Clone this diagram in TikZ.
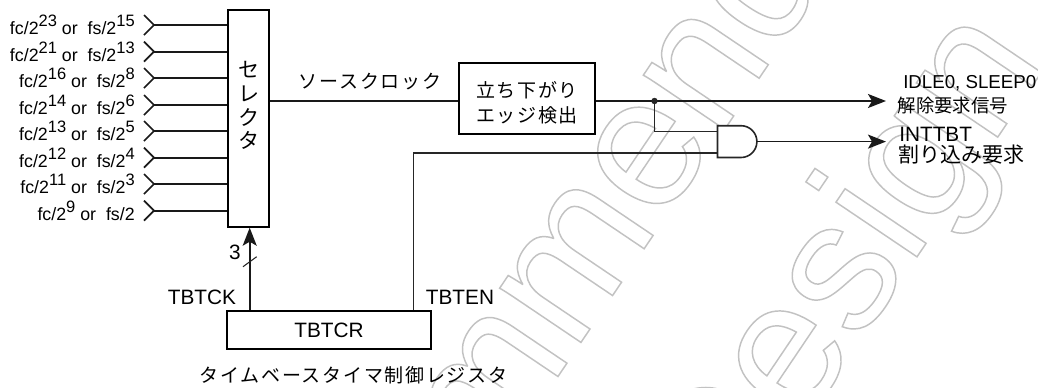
\documentclass[tikz,border=0pt]{standalone}
\usepackage{fontspec}
\setmainfont{Liberation Sans}
\newfontfamily\jpwide[LetterSpace=9]{Noto Sans CJK JP}
\newfontfamily\jp{Noto Sans CJK JP}
\usetikzlibrary{arrows.meta}
\newcommand{\fpx}[1]{\fontsize{\dimexpr#1pt*3/4\relax}{\dimexpr#1pt*9/10\relax}\selectfont}
\newcommand{\supr}[1]{\raisebox{0.42em}{\fpx{16.5}#1}}
\newcommand{\outlined}[1]{\special{pdf:code q 1 Tr 1.1 w 0.76 G}#1\special{pdf:code Q}}
\tikzset{
  x=0.75pt, y=-0.75pt,
  wire/.style={line width=1.3pt, black!90},
  thin wire/.style={line width=1.2pt, black!85},
  box/.style={draw, line width=1.3pt, inner sep=0pt, fill=white},
  lbl/.style={inner sep=0pt, font=\fpx{20.8}},
  rlbl/.style={inner sep=0pt, anchor=east, font=\fpx{17.8}},
  jlbl/.style={inner sep=0pt, font=\jpwide\fpx{19}},
  sellbl/.style={inner sep=0pt, font=\jp\fpx{21}},
  wmark/.style={inner sep=0pt, anchor=base west, rotate=56, font=\fpx{185}},
  arrowed/.style={-{Stealth[length=13.5pt,width=10.5pt,inset=3pt]}},
}
\begin{document}
\begin{tikzpicture}
\useasboundingbox (0,0) rectangle (1038,387);
\begin{scope}
\clip (0,0) rectangle (1038,387);
\node[wmark] (wmA) at (246,839) {\outlined{Recommended}};
\node[wmark] (wmB) at (726,540) {\outlined{Design}};
\end{scope}

% boxes
\node[box, minimum width=30.75pt, minimum height=162.5pt] (sel) at (248.5,118.5) {};
\node[box, line width=1.8pt, minimum width=102pt, minimum height=53pt] (edge) at (527,98.5) {};
\node[box, minimum width=153pt, minimum height=28.5pt] (reg) at (329,330) {};

\node[sellbl] (selA) at (248.5,70) {セ};
\node[sellbl] (selB) at (248.5,93.5) {レ};
\node[sellbl] (selC) at (248.5,117) {ク};
\node[sellbl] (selD) at (248.5,140) {タ};

\node[jlbl] (eA) at (527,90) {立ち下がり};
\node[jlbl] (eB) at (527,115) {エッジ検出};
\node[jlbl] (src) at (370,82) {ソースクロック};
\node[lbl] (regt) at (329,330) {TBTCR};
\node[jlbl] (regc) at (353.5,375) {タイムベースタイマ制御レジスタ};
\node[lbl] (ck) at (202,297) {TBTCK};
\node[lbl] (en) at (460,297) {TBTEN};
\node[lbl] (three) at (235,252) {3};

% inputs
\foreach \n/\yy/\t in {
 a/25/{fc/2\supr{23} or\ \ fs/2\supr{15}},
 b/51.7/{fc/2\supr{21} or\ \ fs/2\supr{13}},
 c/78/{fc/2\supr{16} or\ \ fs/2\supr{8}},
 d/105/{fc/2\supr{14} or\ \ fs/2\supr{6}},
 e/131/{fc/2\supr{13} or\ \ fs/2\supr{5}},
 f/157.7/{fc/2\supr{12} or\ \ fs/2\supr{4}},
 g/184/{fc/2\supr{11} or\ \ fs/2\supr{3}},
 h/210.7/{fc/2\supr{9} or\ \ fs/2}} {
  \coordinate (in\n) at (154,\yy);
  \coordinate (to\n) at (sel.west |- in\n);
  \node[rlbl] (t\n) at (135,\yy) {\t};
  \draw[wire] (to\n) -- (in\n);
  \draw[wire] ([shift={(-10,-10)}]in\n) -- (in\n) -- ([shift={(-10,10)}]in\n);
}

% and gate
\coordinate (andA) at (717.5,131.5);
\coordinate (andB) at (717.5,152.7);
\coordinate (andO) at (757,141.6);
\draw[thin wire, fill=white] (717.5,125.7) -- (741,125.7) arc[start angle=-90, end angle=90, radius=15.9] -- (717.5,157.5) -- cycle;

% outputs
\coordinate (outA) at (886,101);
\coordinate (outB) at (886,141.6);
\coordinate (junc) at (654.5,101);
\coordinate (srcin) at (sel.east |- junc);
\draw[wire] (srcin) -- (edge.west |- srcin);
\draw[wire, arrowed] (edge.east |- junc) -- (outA);
\draw[wire, arrowed] (andO) -- (outB);
\fill[black!85] (junc) circle[radius=3.2];
\draw[thin wire] (junc) |- (andA);
\coordinate (enT) at (413.5,152.7);
\draw[thin wire] (reg.north -| enT) -- (enT) -- (andB);
\coordinate (ckX) at (249.7,0);
\coordinate (ckT) at (sel.south -| ckX);
\draw[wire, arrowed] (reg.north -| ckT) -- (ckT);
\coordinate (slA) at (243,266.7);
\coordinate (slB) at (256.7,256.7);
\draw[line width=0.8pt, black!85] (slA) -- (slB);

\node[lbl, anchor=west, font=\fpx{18.7}] (idle) at (903,83) {IDLE0, SLEEP0};
\node[inner sep=0pt, anchor=west, font=\jp\fpx{18.4}] (kaijo) at (897.5,106) {解除要求信号};
\node[lbl, anchor=west, font=\fpx{20.8}] (int) at (899,134) {INTTBT};
\node[inner sep=0pt, anchor=west, font=\jp\fpx{21}] (wari) at (898,155) {割り込み要求};
\end{tikzpicture}
\end{document}
